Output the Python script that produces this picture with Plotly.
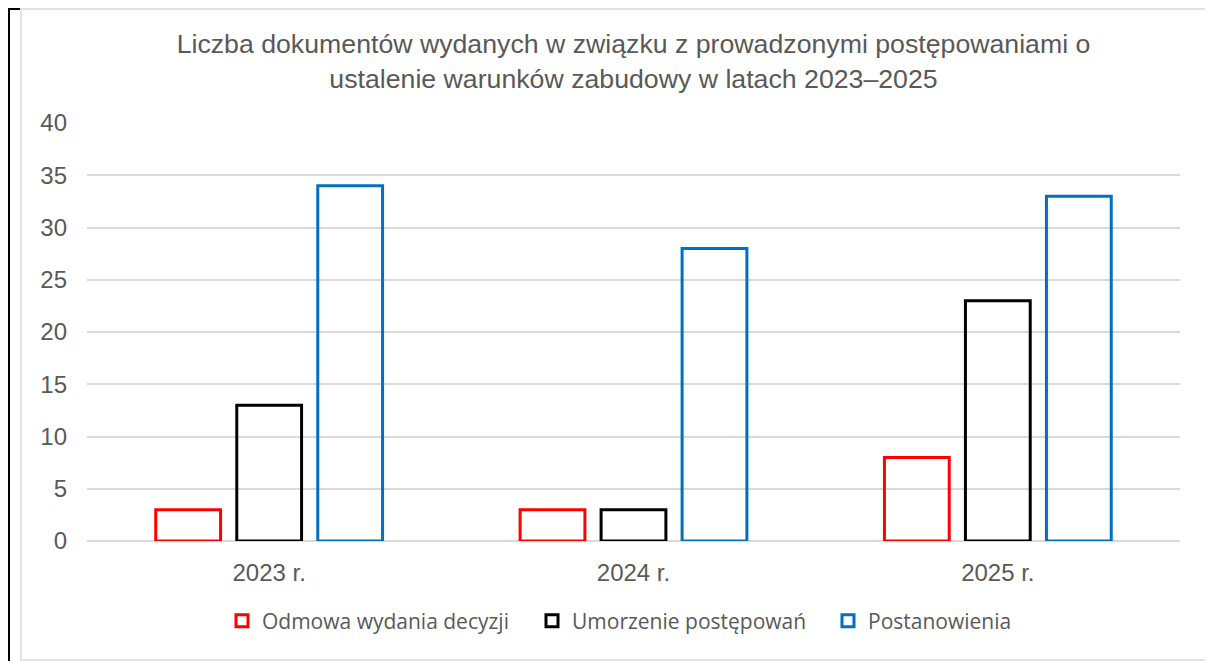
import plotly.graph_objects as go

categories = ["2023 r.", "2024 r.", "2025 r."]
series_names = ["Odmowa wydania decyzji", "Umorzenie postępowań", "Postanowienia"]
odmowa = [3, 3, 8]
umorzenie = [13, 3, 23]
postanowienia = [34, 28, 33]
series_values = [odmowa, umorzenie, postanowienia]
series_colors = ["#FF0000", "#000000", "#0070C0"]
y_ticks = [0, 5, 10, 15, 20, 25, 30, 35, 40]

title_text = ("Liczba dokumentów wydanych w związku z prowadzonymi postępowaniami o<br>"
              "ustalenie warunków zabudowy w latach 2023–2025")

# page body has an 8px margin, so the figure is drawn 8px smaller and offset
OFF = 8
W, H = 1213 - OFF, 661 - OFF
L, R, T, B = 87 - OFF, 1180 - OFF, 123 - OFF, 541 - OFF

def px(x):
    return (x - OFF - L) / (R - L)

def py(y):
    return (B - (y - OFF)) / (B - T)

legend_ids = ["legend", "legend2", "legend3"]
legend_left = [236, 546, 842]  # page x of the legend squares

fig = go.Figure()
for name, vals, col, lg in zip(series_names, series_values, series_colors, legend_ids):
    fig.add_trace(go.Bar(
        x=categories, y=vals, name=name, legend=lg,
        marker=dict(color="rgba(255,255,255,0)", line=dict(color=col, width=3)),
        cliponaxis=False, hoverinfo="x+y+name",
    ))

grey = "#595959"
legend_font = dict(family="Open Sans, Noto Sans", size=21, color=grey)
legends = {}
for lg, lx in zip(legend_ids, legend_left):
    legends[lg] = dict(orientation="h", x=px(lx - 14), xanchor="left", y=py(621),
                       yanchor="middle", font=legend_font, bgcolor="rgba(0,0,0,0)",
                       itemclick=False, itemdoubleclick=False)

fig.update_layout(
    width=W, height=H,
    margin=dict(l=L, r=W - R, t=T, b=H - B, pad=0),
    paper_bgcolor="white", plot_bgcolor="white",
    barmode="group", bargap=0.333, bargroupgap=0.2,
    title=dict(text=title_text, x=0.5, xref="paper", xanchor="center",
               y=1 - (61 - 2 * OFF) / H, yref="container", yanchor="middle",
               font=dict(family="Liberation Sans, Arial", size=26.7, color=grey)),
    font=dict(family="Liberation Sans, Arial", color=grey),
    xaxis=dict(showgrid=False, showline=False, zeroline=False, ticks="",
               tickfont=dict(size=24, color=grey), ticklabelstandoff=15),
    yaxis=dict(range=[0, 40], tickvals=y_ticks, showgrid=True, gridcolor="#d9d9d9",
               gridwidth=1.5, zeroline=True, zerolinecolor="#d9d9d9", zerolinewidth=1.5,
               showline=False, ticks="", tickfont=dict(size=24, color=grey),
               ticklabelstandoff=19),
    showlegend=True,
    **legends,
)

shapes = [
    # light grey chart frame
    dict(type="rect", xref="paper", yref="paper", x0=px(21), x1=px(1208), y0=py(660), y1=py(9),
         line=dict(color="#d9d9d9", width=1.5), fillcolor="rgba(0,0,0,0)", layer="below"),
    # black left border
    dict(type="line", xref="paper", yref="paper", x0=px(9), x1=px(9), y0=py(665), y1=py(8),
         line=dict(color="black", width=2)),
    dict(type="line", xref="paper", yref="paper", x0=px(8), x1=px(20), y0=py(9), y1=py(9),
         line=dict(color="black", width=2)),
    dict(type="line", xref="paper", yref="paper", x0=px(1209), x1=px(1213), y0=py(9), y1=py(9),
         line=dict(color="black", width=2)),
]
fig.update_layout(shapes=shapes)

fig.write_html("out.html")
